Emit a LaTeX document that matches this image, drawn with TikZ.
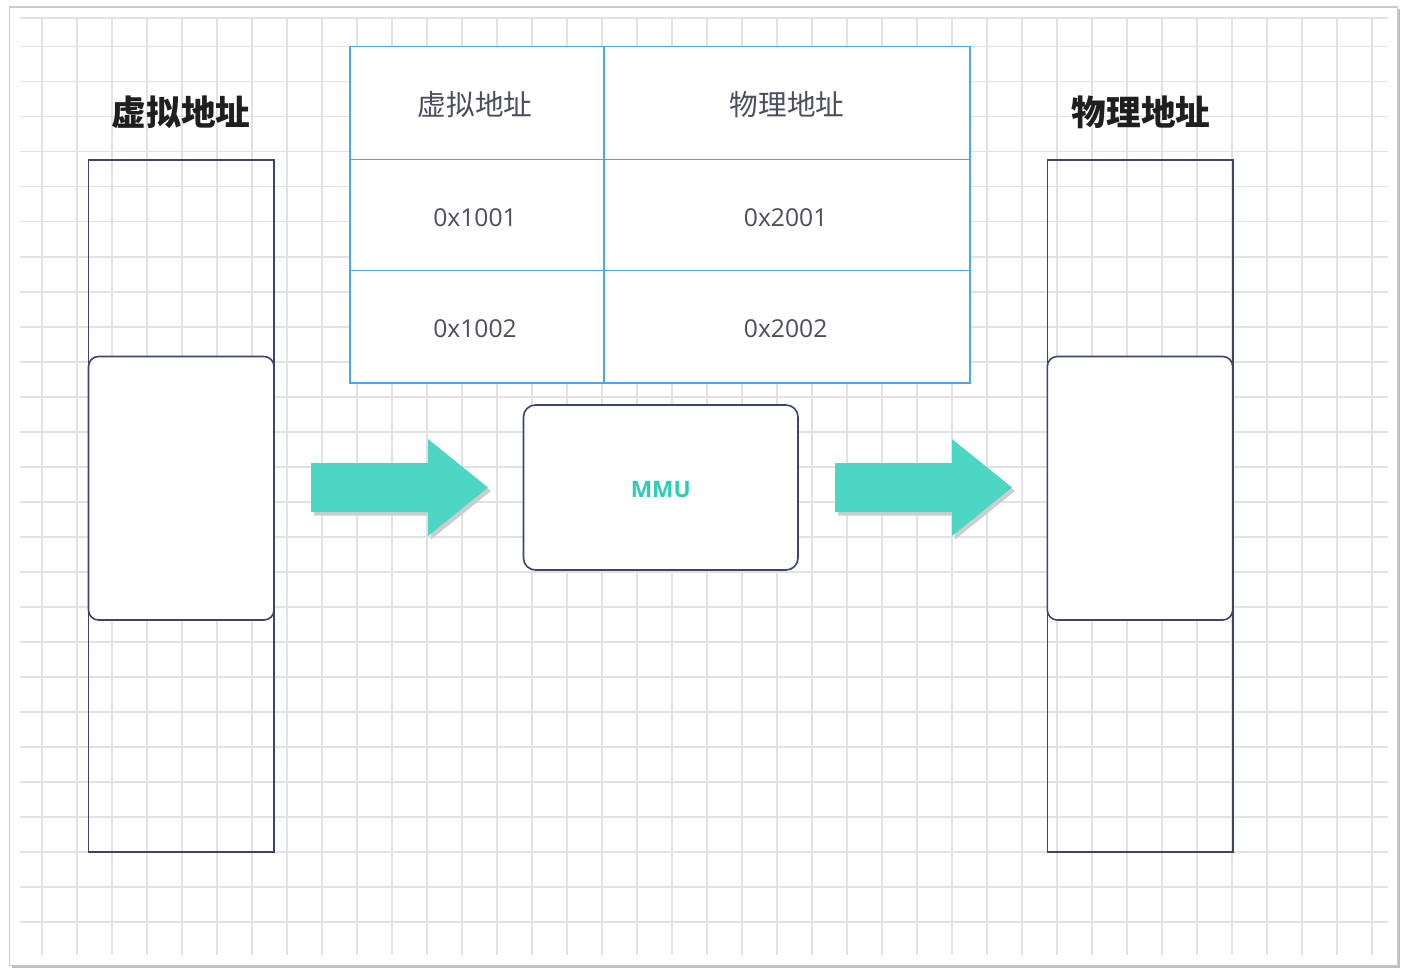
\documentclass[tikz,border=0pt]{standalone}
\usepackage{fontspec}
\setmainfont{Open Sans}
\newfontfamily\cjk{Noto Sans CJK SC}
\usetikzlibrary{fit}

\definecolor{gridc}{HTML}{E2E2E4}
\definecolor{framec}{HTML}{CCCCCC}
\definecolor{boxc}{HTML}{3E4472}
\definecolor{tblc}{HTML}{4AA6F2}
\definecolor{txtc}{HTML}{4C4E5C}
\definecolor{arrowc}{HTML}{4ED6C4}
\definecolor{mmuc}{HTML}{2CCDB4}
\definecolor{shadowc}{HTML}{CDCDCD}

\tikzset{
  gridline/.style={draw=gridc, line width=1.2pt},
  memcol/.style={draw=boxc, line width=1.2pt, inner sep=0pt},
  memslot/.style={draw=boxc, fill=white, line width=1.2pt, inner sep=0pt, rounded corners=7.5pt},
  colhead/.style={font=\cjk\bfseries\fontsize{26}{30}\selectfont, text=black!88},
  cell/.style={draw=tblc, fill=white, line width=1.2pt, inner sep=0pt},
  cjktext/.style={font=\cjk\fontsize{21.5}{26}\selectfont, text=txtc},
  numtext/.style={font=\fontsize{18.5}{22}\selectfont, text=txtc},
  mmubox/.style={draw=boxc, fill=white, line width=1.2pt, inner sep=0pt, rounded corners=9pt},
  blockarrow/.pic={
    \fill[shadowc, shift={(3,3.5)}] (0,-24.5) -- (117,-24.5) -- (117,-48.5) -- (177,0)
      -- (117,48.5) -- (117,24.5) -- (0,24.5) -- cycle;
    \fill[arrowc] (0,-24.5) -- (117,-24.5) -- (117,-48.5) -- (177,0)
      -- (117,48.5) -- (117,24.5) -- (0,24.5) -- cycle;
  }
}

\begin{document}
\begin{tikzpicture}[x=0.75pt, y=-0.75pt]
\useasboundingbox (0,0) rectangle (1414,977);

% page frame with a soft drop shadow
\fill[black!25] (11.5,9.5) rectangle (1399.5,967.5);
\draw[framec, fill=white, line width=1pt] (9.5,7) rectangle (1397.5,965.5);

% background grid
\draw[gridline] (20,18.3) -- (1388,18.3);
\foreach \k in {0,...,25}
  \draw[gridline] (20,{46.7+35*\k}) -- (1388,{46.7+35*\k});
\foreach \k in {0,...,38}
  \draw[gridline] ({41.7+35*\k},18.3) -- ({41.7+35*\k},955);

% virtual address space
\node[colhead] (vhead) at (181,112) {虚拟地址};
\node[memcol, fit={(88.5,160) (274,852)}] (vcol) {};
\node[memslot, fit={(88.5,356.5) (274,620)}] (vslot) {};

% physical address space
\node[colhead] (phead) at (1141,112) {物理地址};
\node[memcol, fit={(1047.3,160) (1232.7,852)}] (pcol) {};
\node[memslot, fit={(1047.3,356.5) (1232.7,620)}] (pslot) {};

% page table
\node[cell, fit={(350,46.7) (604,159.5)}] (t11) {};
\node[cell, fit={(604,46.7) (970,159.5)}] (t12) {};
\node[cell, fit={(350,159.5) (604,270.5)}] (t21) {};
\node[cell, fit={(604,159.5) (970,270.5)}] (t22) {};
\node[cell, fit={(350,270.5) (604,382.7)}] (t31) {};
\node[cell, fit={(604,270.5) (970,382.7)}] (t32) {};
\node[cjktext] (l11) at ([xshift=-1.5pt, yshift=-0.8pt]t11.center) {虚拟地址};
\node[cjktext] (l12) at ([yshift=-0.8pt]t12.center) {物理地址};
\node[numtext] (l21) at ([xshift=-1.5pt, yshift=-2pt]t21.center) {0x1001};
\node[numtext] (l22) at ([xshift=-1pt, yshift=-2pt]t22.center) {0x2001};
\node[numtext] (l31) at ([xshift=-1.5pt, yshift=-1.5pt]t31.center) {0x1002};
\node[numtext] (l32) at ([xshift=-1pt, yshift=-1.5pt]t32.center) {0x2002};

% MMU
\node[mmubox, fit={(523.5,405) (798,570)}] (mmu) {};
\node[text=mmuc, font=\bfseries\fontsize{17}{20}\selectfont] (mmulabel)
  at ([yshift=-1.5pt]mmu.center) {MMU};

% block arrows: virtual -> MMU -> physical
\pic at (311,487.5) {blockarrow};
\pic at (835,487.5) {blockarrow};
\end{tikzpicture}
\end{document}
